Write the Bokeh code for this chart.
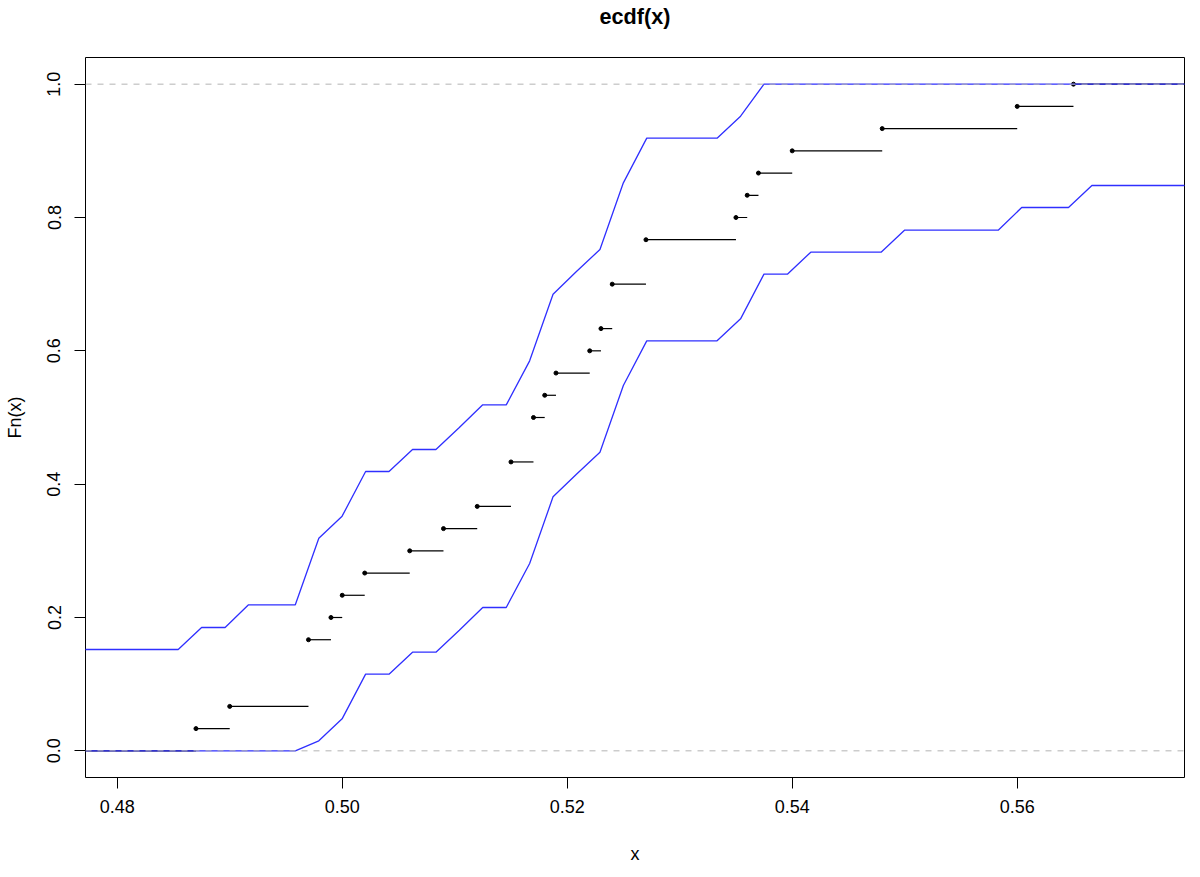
import numpy as np
from bokeh.plotting import figure
from bokeh.models import (Span, FixedTicker, PrintfTickFormatter, ColumnDataSource,
                          LinearAxis)
from bokeh.embed import file_html
from bokeh.resources import INLINE

# ---- data ----
knots = [0.487, 0.490, 0.497, 0.499, 0.500, 0.502, 0.506, 0.509, 0.512, 0.515,
         0.517, 0.518, 0.519, 0.522, 0.523, 0.524, 0.527, 0.535, 0.536, 0.537,
         0.540, 0.548, 0.560, 0.565]
cum_counts = [1, 2, 5, 6, 7, 8, 9, 10, 11, 13, 15, 16, 17, 18, 19, 21, 23, 24,
              25, 26, 27, 28, 29, 30]
n_obs = 30

band_x = [0.47709, 0.47917, 0.48126, 0.48334, 0.48542, 0.48750, 0.48959, 0.49167,
          0.49375, 0.49583, 0.49792, 0.49999, 0.50208, 0.50416, 0.50625, 0.50833,
          0.51041, 0.51249, 0.51458, 0.51666, 0.51874, 0.52082, 0.52291, 0.52499,
          0.52707, 0.52916, 0.53124, 0.53332, 0.53541, 0.53749, 0.53957, 0.54165,
          0.54374, 0.54582, 0.54790, 0.54998, 0.55207, 0.55415, 0.55623, 0.55831,
          0.56040, 0.56248, 0.56456, 0.56664, 0.56873, 0.57081, 0.57289, 0.57497]
band_upper = [0.152, 0.152, 0.152, 0.152, 0.152, 0.185, 0.185, 0.219, 0.219, 0.219,
              0.319, 0.352, 0.419, 0.419, 0.452, 0.452, 0.485, 0.519, 0.519, 0.585,
              0.685, 0.719, 0.752, 0.852, 0.919, 0.919, 0.919, 0.919, 0.952, 1.0,
              1.0, 1.0, 1.0, 1.0, 1.0, 1.0, 1.0, 1.0, 1.0, 1.0,
              1.0, 1.0, 1.0, 1.0, 1.0, 1.0, 1.0, 1.0]
band_lower = [0.0, 0.0, 0.0, 0.0, 0.0, 0.0, 0.0, 0.0, 0.0, 0.0,
              0.015, 0.048, 0.115, 0.115, 0.148, 0.148, 0.181, 0.215, 0.215, 0.281,
              0.381, 0.415, 0.448, 0.548, 0.615, 0.615, 0.615, 0.615, 0.648, 0.715,
              0.715, 0.748, 0.748, 0.748, 0.748, 0.781, 0.781, 0.781, 0.781, 0.781,
              0.815, 0.815, 0.815, 0.848, 0.848, 0.848, 0.848, 0.848]

x_ticks = [0.48, 0.50, 0.52, 0.54, 0.56]
y_ticks = [0.0, 0.2, 0.4, 0.6, 0.8, 1.0]
x_limits = (0.47718, 0.57487)
y_limits = (-0.04, 1.04)
title_text = "ecdf(x)"

FONT = "Liberation Sans"

# ---- figure ----
p = figure(width=1200, height=877, x_range=x_limits, y_range=y_limits,
           title=None, output_backend="svg", toolbar_location=None,
           min_border_left=85, min_border_right=16, min_border_top=57,
           min_border_bottom=100)
p.background_fill_color = "white"
p.border_fill_color = "white"
p.outline_line_color = "black"
p.outline_line_width = 1
p.grid.visible = False

for ax in (p.xaxis[0], p.yaxis[0]):
    ax.axis_line_color = None
    ax.major_tick_in = 0
    ax.major_tick_out = 11
    ax.major_tick_line_color = "black"
    ax.minor_tick_line_color = None
    ax.major_label_text_font = FONT
    ax.major_label_text_font_size = "18px"
    ax.major_label_text_color = "black"
    ax.axis_label_text_font = FONT
    ax.axis_label_text_font_size = "18px"
    ax.axis_label_text_font_style = "normal"
    ax.axis_label_text_color = "black"

p.xaxis.ticker = FixedTicker(ticks=x_ticks)
p.xaxis.formatter = PrintfTickFormatter(format="%.2f")
p.xaxis.axis_label = "x"
p.xaxis.major_label_standoff = 11
p.xaxis.axis_label_standoff = 28

p.yaxis.ticker = FixedTicker(ticks=y_ticks)
p.yaxis.formatter = PrintfTickFormatter(format="%.1f")
p.yaxis.axis_label = "Fn(x)"
p.yaxis.major_label_orientation = "vertical"
p.yaxis.major_label_standoff = 14
p.yaxis.axis_label_standoff = 20

# main title, carried by a tick-less axis above the frame
title_axis = LinearAxis(ticker=FixedTicker(ticks=[]), axis_label=title_text,
                        axis_line_color=None, major_tick_line_color=None,
                        minor_tick_line_color=None, major_tick_out=0,
                        major_tick_in=0, major_label_standoff=0,
                        axis_label_standoff=29,
                        axis_label_text_font=FONT,
                        axis_label_text_font_size="21.6px",
                        axis_label_text_font_style="bold",
                        axis_label_text_color="black")
p.add_layout(title_axis, "above")

# reference lines at 0 and 1
for lev in (0.0, 1.0):
    p.add_layout(Span(location=lev, dimension="width", line_color="#b3b3b3",
                      line_dash="6 6", line_width=1))

# ecdf horizontal steps
levels = [0.0] + [c / n_obs for c in cum_counts]
seg_x0 = [x_limits[0]] + knots
seg_x1 = knots + [x_limits[1]]
src_seg = ColumnDataSource(dict(x0=seg_x0, x1=seg_x1, y=levels))
p.segment(x0="x0", y0="y", x1="x1", y1="y", source=src_seg,
          line_color="black", line_width=1.2)

# ecdf points
p.scatter(knots, [c / n_obs for c in cum_counts], size=4, color="black")

# confidence bands
p.line(band_x, band_upper, line_color="#2f2fff", line_width=1.3)
p.line(band_x, band_lower, line_color="#2f2fff", line_width=1.3)

open("out.html", "w").write(file_html(p, INLINE))
